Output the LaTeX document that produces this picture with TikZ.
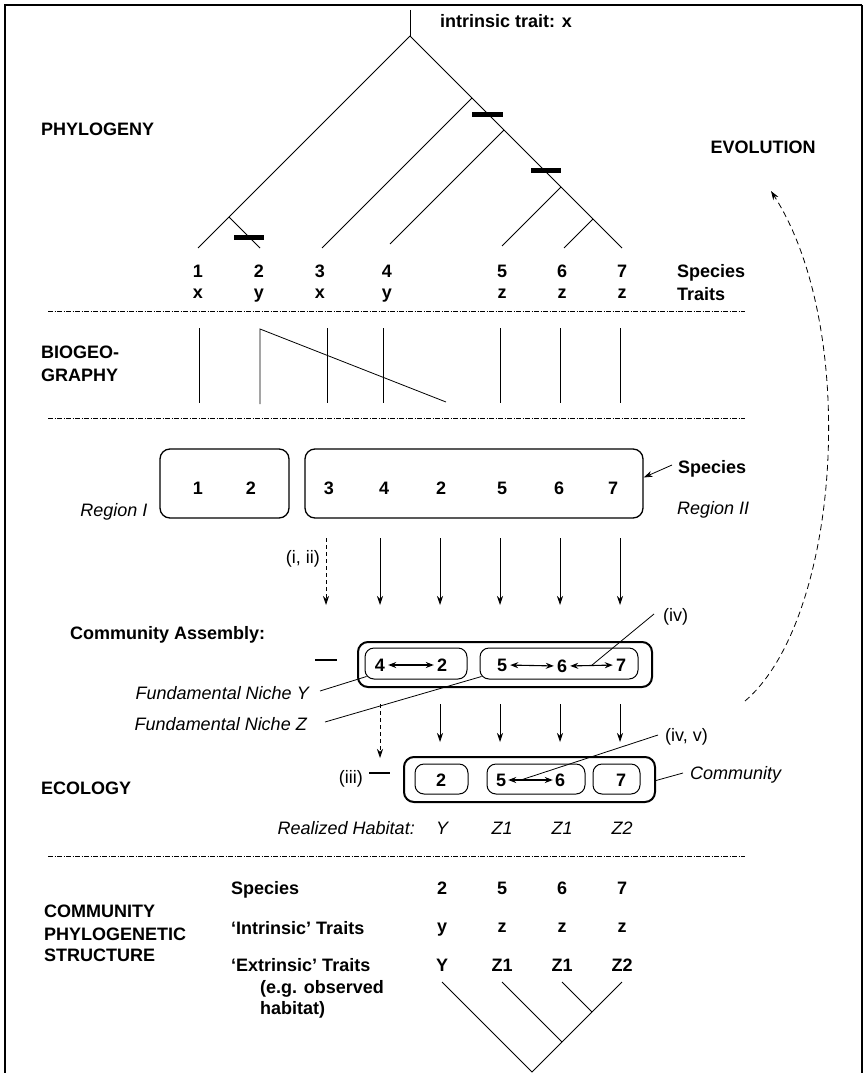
\documentclass[tikz,border=0pt]{standalone}
\usepackage{fontspec}
\setmainfont{Liberation Sans}
\usetikzlibrary{arrows.meta,calc}
\newcommand{\fsz}{\fontsize{18}{20}\selectfont}
\begin{document}
\begin{tikzpicture}[x=1pt,y=-1pt,
  T/.style={inner sep=0pt, text depth=0pt, font=\fsz\bfseries},
  TR/.style={inner sep=0pt, text depth=0pt, font=\fsz},
  TI/.style={inner sep=0pt, text depth=0pt, font=\fsz\itshape},
  br/.style={line width=0.8pt},
  bar/.style={line width=5pt},
  dd/.style={line width=0.6pt, dash pattern=on 5pt off 1.5pt on 1pt off 1.5pt},
  arr/.style={line width=0.8pt, -{Stealth[length=9pt,width=6pt]}},
  darr/.style={arr, dash pattern=on 4pt off 3pt},
  dbl/.style={line width=1.1pt, {Stealth[length=8pt,width=6pt]}-{Stealth[length=8pt,width=6pt]}, shorten <=3pt, shorten >=3pt},
  obox/.style={draw, line width=2pt, rounded corners=10pt, inner sep=0pt},
  ibox/.style={draw, line width=1pt, rounded corners=9pt, inner sep=0pt},
  rbox/.style={draw, line width=1.3pt, rounded corners=10pt, inner sep=0pt},
  lead/.style={line width=0.8pt}]
\useasboundingbox (0,0) rectangle (866,1073);
% frame
\draw[line width=2pt] (4.7,1073) -- (4.7,5) -- (862,5);
\draw[line width=1.4pt] (862,5) -- (862,1073);

% ---------------- PHYLOGENY ----------------
\coordinate (top) at (410,10);
\coordinate (root) at (410,36);
\coordinate (l1) at (198,248);
\coordinate (l2) at (260,248);
\coordinate (l3) at (322,248);
\coordinate (l4) at (390,244);
\coordinate (l5) at (502,246);
\coordinate (l6) at (564,248);
\coordinate (l7) at (622,248);
\coordinate (n2) at (229,217);
\coordinate (n3) at (472,98);
\coordinate (n4) at (504,130);
\coordinate (n5) at (561,187);
\coordinate (n6) at (593,219);
\draw[br] (top) -- (root);
\draw[line width=0.9pt] (root) -- (l1);
\draw[br] (root) -- (l7);
\draw[br] (n2) -- (l2);
\draw[br] (n3) -- (l3);
\draw[br] (n4) -- (l4);
\draw[line width=1pt] (n5) -- (l5);
\draw[br] (n6) -- (l6);
\draw[bar] (234,237) -- (264,237);
\draw[bar] (472,114) -- (503,114);
\draw[bar] (531,170) -- (561,170);

\node[T, anchor=west] (itx) at (440,21) {intrinsic trait: x};
\node[T, anchor=west] (phy) at (41,129) {PHYLOGENY};
\node[T] (evo) at (763,147) {EVOLUTION};

\foreach \i/\x/\t in {1/198/x,2/259/y,3/320/x,4/387/y,5/502/z,6/562/z,7/622/z}{
  \node[T] (sp\i) at (\x,271) {\i};
  \node[T] (tr\i) at (\x,294) {\t};
}
\node[T, anchor=west] (spl) at (677,271) {Species};
\node[T, anchor=west] (trl) at (677,294) {Traits};

\draw[dd] (48,311) -- (745,311);

% ---------------- BIOGEOGRAPHY ----------------
\node[T, anchor=west] (bio1) at (41,352) {BIOGEO-};
\node[T, anchor=west] (bio2) at (41,375) {GRAPHY};
\foreach \x in {199,327,383,500,560,620}{
  \draw[br] (\x,328) -- (\x,403);
}
\coordinate (dtop) at (260,329);
\coordinate (dbot) at (260,404);
\coordinate (dend) at (446,402);
\draw[br] (dbot) -- (dtop) -- (dend);

\draw[dd] (48,418) -- (745,418);

% ---------------- REGIONS ----------------
\node[rbox, minimum width=129, minimum height=69] (reg1) at (224.5,483.5) {};
\node[rbox, minimum width=338, minimum height=69] (reg2) at (474,483.5) {};
\foreach \n/\x/\t in {a/198/1,b/251/2,c/329/3,d/384/4,e/441/2,f/502/5,g/559/6,h/613/7}{
  \node[T] (r\n) at (\x,488) {\t};
}
\node[T, anchor=west] (spr) at (678,467) {Species};
\draw[lead, -{Stealth[length=9pt,width=6pt]}] ([xshift=-6pt,yshift=2pt]spr.west) -- ([yshift=6pt]reg2.east);
\node[TI] (rg1) at (114,510) {Region I};
\node[TI, anchor=west] (rg2) at (677,508) {Region II};

% arrows row 1
\node[TR, anchor=east] (i2) at (320,557) {(i, ii)};
\coordinate (u1) at (326,538); \coordinate (v1) at (326,605);
\draw[darr] (u1) -- (v1);
\foreach \k/\x in {2/380,3/440,4/500,5/560,6/620}{
  \coordinate (u\k) at (\x,538); \coordinate (v\k) at (\x,605);
  \draw[arr] (u\k) -- (v\k);
}

% ---------------- COMMUNITY ASSEMBLY ----------------
\node[T, anchor=west] (ca) at (70,633) {Community Assembly:};
\draw[line width=1.5pt] (315,660) -- (337,660);
\node[obox, minimum width=294, minimum height=45] (cao) at (505,664.5) {};
\node[ibox, minimum width=102, minimum height=31] (cai1) at (416,663.5) {};
\node[ibox, minimum width=158, minimum height=31] (cai2) at (559,663.5) {};
\node[T] (ca4) at (380,665) {4};
\node[T] (ca2) at (442,665) {2};
\node[T] (ca5) at (502,665) {5};
\node[T] (ca6) at (562,666) {6};
\node[T] (ca7) at (621,665) {7};
\draw[dbl] (ca4.east) -- (ca2.west);
\draw[dbl] (ca5.east) -- (ca6.west);
\draw[dbl] (ca6.east) -- (ca7.west);
\coordinate (m67) at ($(ca6.east)!0.5!(ca7.west)$);
\node[TR, anchor=west] (iv) at (663,615) {(iv)};
\draw[lead] ([xshift=-9pt,yshift=1pt]iv.west) -- (m67);

\node[TI, anchor=east] (fny) at (309,693) {Fundamental Niche Y};
\node[TI, anchor=east] (fnz) at (307,724) {Fundamental Niche Z};
\draw[lead] ([xshift=11pt,yshift=2pt]fny.east) -- ([shift={(2,-3)}]cai1.south west);
\draw[lead] ([xshift=18pt,yshift=2pt]fnz.east) -- ([shift={(2,-3)}]cai2.south west);

% arrows row 2
\coordinate (w1) at (380,704); \coordinate (z1) at (380,758);
\draw[darr] (w1) -- (z1);
\foreach \k/\x in {2/440,3/500,4/560,5/620}{
  \coordinate (w\k) at (\x,704); \coordinate (z\k) at (\x,742);
  \draw[arr] (w\k) -- (z\k);
}

% ---------------- ECOLOGY ----------------
\node[TR, anchor=east] (iii) at (363,777) {(iii)};
\draw[line width=1.5pt] (369,773) -- (390,773);
\node[obox, minimum width=251, minimum height=45] (eco) at (529.5,779.5) {};
\node[ibox, minimum width=53, minimum height=30] (ei2) at (441.5,779) {};
\node[ibox, minimum width=98, minimum height=30] (ei56) at (536,779) {};
\node[ibox, minimum width=47, minimum height=30] (ei7) at (616.5,779) {};
\node[T] (e2) at (441,780) {2};
\node[T] (e5) at (501,780) {5};
\node[T] (e6) at (560,780) {6};
\node[T] (e7) at (621,780) {7};
\draw[dbl, shorten <=2pt, shorten >=2pt] (e5.east) -- (e6.west);
\coordinate (m56) at ($(e5.east)!0.3!(e6.west)$);
\node[TR, anchor=west] (ivv) at (665,735) {(iv, v)};
\draw[lead] ([xshift=-7pt]ivv.west) -- (m56);
\node[TI, anchor=west] (com) at (690,773) {Community};
\draw[lead] ([xshift=-7pt]com.west) -- ([yshift=-1pt]eco.east);
\node[T, anchor=west] (ecol) at (41,788) {ECOLOGY};
\node[TI, anchor=east] (rh) at (415,828) {Realized Habitat:};
\foreach \n/\x/\t in {a/442/Y,b/502/Z1,c/562/Z1,d/622/Z2}{
  \node[TI] (h\n) at (\x,828) {\t};
}

\draw[dd] (48,856) -- (745,856);

% ---------------- COMMUNITY PHYLOGENETIC STRUCTURE ----------------
\node[T, anchor=west] (cps1) at (44,911) {COMMUNITY};
\node[T, anchor=west] (cps2) at (44,934) {PHYLOGENETIC};
\node[T, anchor=west] (cps3) at (44,955) {STRUCTURE};
\node[T, anchor=west] (bs) at (231,888) {Species};
\node[T, anchor=west] (bi) at (231,928) {‘Intrinsic’ Traits};
\node[T, anchor=west] (be) at (231,965) {‘Extrinsic’ Traits};
\node[T, anchor=west] (beg) at (260,987) {(e.g. observed};
\node[T, anchor=west] (bh) at (260,1008) {habitat)};
\foreach \n/\x/\s/\i/\e in {a/442/2/y/Y,b/502/5/z/Z1,c/562/6/z/Z1,d/622/7/z/Z2}{
  \node[T] (bs\n) at (\x,888) {\s};
  \node[T] (bi\n) at (\x,928) {\i};
  \node[T] (be\n) at (\x,965) {\e};
}
\coordinate (k2) at (442,982);
\coordinate (k5) at (502,982);
\coordinate (k6) at (562,982);
\coordinate (k7) at (622,982);
\coordinate (k67) at (592,1012);
\coordinate (k567) at (562,1042);
\coordinate (kr) at (532,1072);
\draw[br] (k2) -- (kr) -- (k7);
\draw[br] (k5) -- (k567);
\draw[line width=1pt] (k6) -- (k67);

% ---------------- EVOLUTION arrow ----------------
\coordinate (ev0) at (745,701);
\coordinate (ev1) at (771,191);
\draw[line width=0.8pt, dash pattern=on 6pt off 4pt, -{Stealth[length=9pt,width=6pt]}]
  (ev0) .. controls (840,620) and (860,330) .. (ev1);
\end{tikzpicture}
\end{document}
